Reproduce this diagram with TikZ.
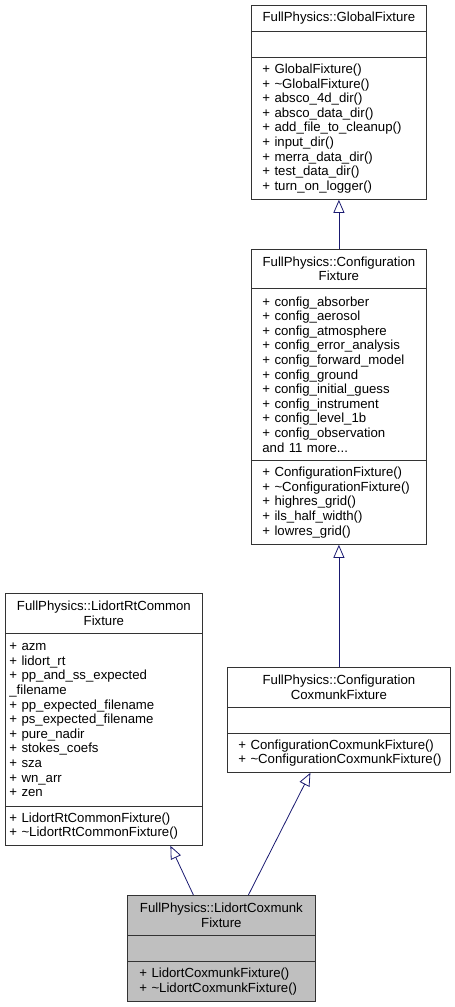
\documentclass[tikz,border=0pt]{standalone}
\usepackage{fontspec}
\setmainfont{Liberation Sans}
\usetikzlibrary{arrows.meta}
\definecolor{edgeblue}{HTML}{191970}
\definecolor{curgray}{HTML}{BFBFBF}
\tikzset{
  umlbox/.style={draw=black!80, line width=0.8pt, fill=white, anchor=north west,
    inner sep=0pt, font=\fontsize{13.2}{14.6}\selectfont},
  classname/.style 2 args={umlbox, text width=#1pt, minimum height=#2pt, align=center},
  members/.style n args={3}{umlbox, text width=#1pt, minimum height=#2pt, align=left,
    execute at begin node={\leftskip=#3pt}},
  inherit/.style={draw=edgeblue, line width=0.8pt, -{Triangle[open, length=13pt, width=11pt]}}
}
\begin{document}
\begin{tikzpicture}[x=1pt, y=-1pt]
  \useasboundingbox (0,0) rectangle (455,1007);
  % GlobalFixture
  \node[classname={175}{26}] (gft) at (251,5) {FullPhysics::GlobalFixture};
  \node[members={175}{26}{11}] (gfa) at (251,31) {};
  \node[members={175}{142}{11}] (gfm) at (251,57) {+ GlobalFixture()\\+ \textasciitilde GlobalFixture()\\+ absco\_4d\_dir()\\+ absco\_data\_dir()\\+ add\_file\_to\_cleanup()\\+ input\_dir()\\+ merra\_data\_dir()\\+ test\_data\_dir()\\+ turn\_on\_logger()};
  % ConfigurationFixture
  \node[classname={175}{39}] (cft) at (251,249) {FullPhysics::Configuration\\Fixture};
  \node[members={175}{172}{11}] (cfa) at (251,288) {+ config\_absorber\\+ config\_aerosol\\+ config\_atmosphere\\+ config\_error\_analysis\\+ config\_forward\_model\\+ config\_ground\\+ config\_initial\_guess\\+ config\_instrument\\+ config\_level\_1b\\+ config\_observation\\and 11 more...};
  \node[members={175}{84}{11}] (cfm) at (251,460) {+ ConfigurationFixture()\\+ \textasciitilde ConfigurationFixture()\\+ highres\_grid()\\+ ils\_half\_width()\\+ lowres\_grid()};
  % LidortRtCommonFixture
  \node[classname={197}{40}] (lrt) at (5,593) {FullPhysics::LidortRtCommon\\Fixture};
  \node[members={197}{173}{4}] (lra) at (5,633) {+ azm\\+ lidort\_rt\\+ pp\_and\_ss\_expected\\\_filename\\+ pp\_expected\_filename\\+ ps\_expected\_filename\\+ pure\_nadir\\+ stokes\_coefs\\+ sza\\+ wn\_arr\\+ zen};
  \node[members={197}{39}{4}] (lrm) at (5,806) {+ LidortRtCommonFixture()\\+ \textasciitilde LidortRtCommonFixture()};
  % ConfigurationCoxmunkFixture
  \node[classname={223}{40}] (cct) at (227,667) {FullPhysics::Configuration\\CoxmunkFixture};
  \node[members={223}{26}{11}] (cca) at (227,707) {};
  \node[members={223}{39}{11}] (ccm) at (227,733) {+ ConfigurationCoxmunkFixture()\\+ \textasciitilde ConfigurationCoxmunkFixture()};
  % LidortCoxmunkFixture
  \node[classname={188}{40}, fill=curgray] (lct) at (127,895) {FullPhysics::LidortCoxmunk\\Fixture};
  \node[members={188}{26}{12}, fill=curgray] (lca) at (127,935) {};
  \node[members={188}{40}{12}, fill=curgray] (lcm) at (127,961) {+ LidortCoxmunkFixture()\\+ \textasciitilde LidortCoxmunkFixture()};
  % inheritance
  \draw[inherit] (cft.north) -- (gfm.south);
  \draw[inherit] (cct.north) -- (cfm.south);
  \draw[inherit] ([xshift=-28pt]lct.north) -- ([xshift=66.5pt]lrm.south);
  \draw[inherit] ([xshift=27pt]lct.north) -- ([xshift=-28.5pt]ccm.south);
\end{tikzpicture}
\end{document}
